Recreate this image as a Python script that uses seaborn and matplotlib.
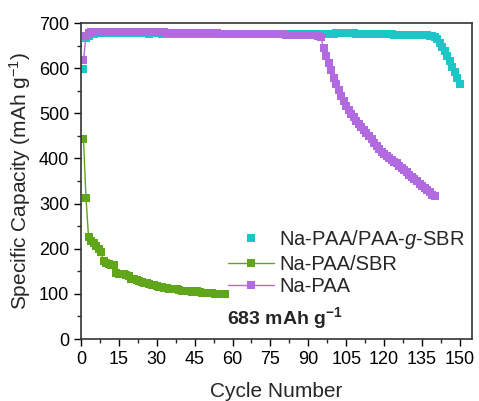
import matplotlib
matplotlib.use('Agg')
import matplotlib.pyplot as plt
from matplotlib.ticker import MultipleLocator
import seaborn as sns
import pandas as pd

# capacity per cycle
cap_graft = [
    598, 666, 672, 675, 676, 677, 677, 677, 678, 677, 677, 677, 678, 677, 677,
    677, 677, 677, 677, 677, 677, 677, 677, 677, 677, 677, 676, 677, 677, 677,
    677, 676, 677, 677, 676, 677, 676, 676, 677, 676, 676, 676, 676, 676, 676,
    676, 676, 676, 676, 676, 676, 676, 676, 676, 676, 676, 676, 676, 675, 676,
    676, 676, 675, 676, 676, 675, 675, 676, 675, 675, 676, 675, 675, 675, 675,
    675, 675, 675, 675, 675, 675, 675, 675, 675, 675, 675, 675, 675, 675, 675,
    675, 675, 675, 675, 675, 676, 676, 676, 676, 676, 677, 677, 677, 677, 677,
    677, 677, 677, 676, 676, 676, 676, 676, 676, 676, 675, 675, 675, 675, 675,
    675, 675, 675, 674, 674, 674, 674, 674, 674, 674, 674, 673, 673, 673, 673,
    673, 673, 672, 672, 670, 665, 656, 647, 637, 626, 615, 603, 591, 579, 566,
]
cap_sbr = [
    443, 312, 227, 218, 212, 205, 199, 192, 172, 168, 166, 165, 163, 147, 145,
    144, 143, 141, 139, 134, 132, 130, 128, 126, 124, 123, 121, 120, 119, 117,
    116, 115, 113, 112, 111, 111, 110, 110, 108, 107, 106, 107, 106, 105, 104,
    106, 105, 103, 102, 101, 102, 101, 100, 100, 99, 99, 99,
]
cap_paa = [
    617, 672, 678, 679, 680, 680, 680, 680, 680, 680, 680, 680, 680, 680, 680,
    680, 680, 680, 680, 680, 680, 679, 679, 679, 679, 679, 679, 679, 679, 679,
    679, 679, 679, 678, 678, 678, 678, 678, 678, 678, 678, 678, 677, 677, 677,
    677, 677, 677, 677, 677, 677, 677, 677, 677, 676, 676, 676, 676, 676, 676,
    676, 676, 676, 676, 676, 676, 675, 675, 675, 675, 675, 675, 675, 675, 675,
    675, 675, 675, 675, 675, 674, 674, 674, 674, 674, 674, 674, 674, 674, 674,
    674, 674, 673, 672, 668, 645, 628, 611, 595, 578, 564, 551, 539, 527, 517,
    508, 499, 491, 483, 476, 469, 462, 456, 449, 442, 435, 428, 421, 415, 410,
    406, 401, 397, 393, 389, 384, 379, 374, 369, 364, 359, 354, 349, 344, 339,
    334, 329, 325, 320, 316,
]
labels = ['Na-PAA/PAA-$g$-SBR', 'Na-PAA/SBR', 'Na-PAA']
colors = ['#1cc6c6', '#5fa61a', '#b26ae0']

sns.set_style('ticks')
plt.rcParams['font.family'] = ['Liberation Sans', 'DejaVu Sans']
plt.rcParams['mathtext.fontset'] = 'custom'
plt.rcParams['mathtext.rm'] = 'Liberation Sans'
plt.rcParams['mathtext.it'] = 'Liberation Sans:italic'
plt.rcParams['mathtext.bf'] = 'Liberation Sans:bold'

fig = plt.figure(figsize=(4.79, 4.01), dpi=100)
ax = fig.add_axes([0.169, 0.1546, 0.816, 0.788])

series = [cap_graft, cap_sbr, cap_paa]
line_widths = [0, 1, 1]
for vals, lab, col, lw in zip(series, labels, colors, line_widths):
    df = pd.DataFrame({'cycle': range(1, len(vals) + 1), 'cap': vals})
    sns.lineplot(data=df, x='cycle', y='cap', ax=ax, color=col, marker='s',
                 markersize=6, markeredgewidth=0, linewidth=lw, label=lab)

ax.set_xlim(0, 154.7)
ax.set_ylim(0, 700)
ax.xaxis.set_major_locator(MultipleLocator(15))
ax.xaxis.set_minor_locator(MultipleLocator(7.5))
ax.yaxis.set_major_locator(MultipleLocator(100))
ax.yaxis.set_minor_locator(MultipleLocator(50))
ax.tick_params(which='major', direction='out', length=5, width=1, labelsize=13, colors='black')
ax.tick_params(which='minor', direction='out', length=3, width=1)
for sp in ax.spines.values():
    sp.set_visible(True)
    sp.set_linewidth(1.2)
    sp.set_color('#333333')

ax.set_xlabel('Cycle Number', fontsize=15, labelpad=10)
ax.set_ylabel('Specific Capacity (mAh g$^{-1}$)', fontsize=15)

ax.text(58, 46, '683 mAh g$\\mathbf{^{-1}}$', fontsize=14, fontweight='bold', va='center')

ax.legend(loc='upper left', bbox_to_anchor=(0.376, 0.35), frameon=False,
          fontsize=14.5, borderpad=0, borderaxespad=0, handlelength=2.3,
          handletextpad=0.25, labelspacing=0.17)

plt.savefig('out.png', dpi=100)
plt.close('all')
